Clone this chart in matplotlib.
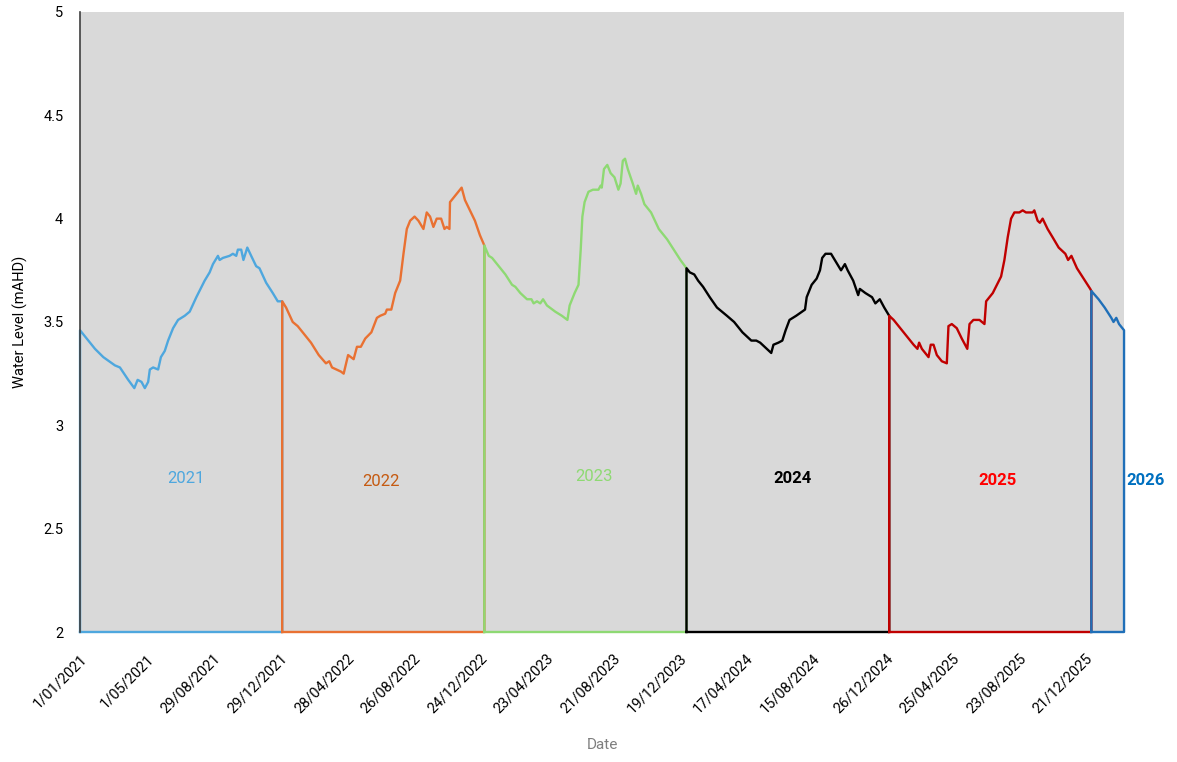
import matplotlib
matplotlib.use('Agg')
import matplotlib.pyplot as plt
import matplotlib.ticker as mticker
import pandas as pd

plt.rcParams['font.family'] = ['Roboto', 'DejaVu Sans']

# day of year / water level (mAHD), one series per year
doy_2021 = [0, 15, 27, 42, 63, 72, 87, 98, 104, 111, 117, 123, 126, 132, 141, 146, 153, 159, 168, 177,
            189, 198, 210, 225, 234, 240, 249, 252, 258, 270, 276, 282, 285, 291, 295, 302, 309, 318, 324,
            336, 348, 357, 365]
lvl_2021 = [3.46, 3.41, 3.37, 3.33, 3.29, 3.28, 3.22, 3.18, 3.22, 3.21, 3.18, 3.21, 3.27, 3.28, 3.27, 3.33,
            3.36, 3.41, 3.47, 3.51, 3.53, 3.55, 3.62, 3.70, 3.74, 3.78, 3.82, 3.80, 3.81, 3.82, 3.83, 3.82,
            3.85, 3.85, 3.80, 3.86, 3.82, 3.77, 3.76, 3.69, 3.64, 3.60, 3.60]

doy_2022 = [0, 7, 19, 28, 40, 52, 66, 79, 85, 90, 106, 111, 119, 129, 135, 142, 150, 161, 171, 177, 186,
            189, 197, 204, 213, 219, 225, 231, 239, 246, 255, 261, 267, 273, 279, 287, 293, 297, 302, 303,
            309, 315, 321, 324, 330, 339, 348, 357, 365]
lvl_2022 = [3.60, 3.57, 3.50, 3.48, 3.44, 3.40, 3.34, 3.30, 3.31, 3.28, 3.26, 3.25, 3.34, 3.32, 3.38, 3.38,
            3.42, 3.45, 3.52, 3.53, 3.54, 3.56, 3.56, 3.64, 3.70, 3.83, 3.95, 3.99, 4.01, 3.99, 3.95, 4.03,
            4.01, 3.96, 4.00, 4.00, 3.95, 3.96, 3.95, 4.08, 4.10, 4.12, 4.14, 4.15, 4.09, 4.04, 3.99, 3.92,
            3.87]

doy_2023 = [0, 8, 14, 26, 38, 50, 56, 65, 77, 85, 89, 95, 101, 106, 113, 128, 140, 150, 154, 163, 170, 174,
            177, 181, 188, 196, 202, 206, 210, 212, 216, 222, 228, 235, 242, 246, 250, 254, 259, 268, 274,
            277, 283, 289, 301, 315, 330, 342, 354, 365]
lvl_2023 = [3.87, 3.82, 3.81, 3.77, 3.73, 3.68, 3.67, 3.64, 3.61, 3.61, 3.59, 3.60, 3.59, 3.61, 3.58, 3.55,
            3.53, 3.51, 3.58, 3.64, 3.68, 3.85, 4.01, 4.08, 4.13, 4.14, 4.14, 4.14, 4.16, 4.15, 4.24, 4.26,
            4.22, 4.20, 4.14, 4.17, 4.28, 4.29, 4.24, 4.17, 4.12, 4.16, 4.12, 4.07, 4.03, 3.95, 3.90, 3.85,
            3.80, 3.76]

doy_2024 = [0, 6, 14, 21, 30, 42, 55, 64, 73, 86, 101, 117, 126, 133, 145, 153, 157, 166, 173, 179, 186,
            198, 214, 217, 226, 235, 241, 245, 251, 261, 270, 279, 286, 291, 301, 310, 313, 323, 335, 341,
            349, 357, 366]
lvl_2024 = [3.76, 3.74, 3.73, 3.70, 3.67, 3.62, 3.57, 3.55, 3.53, 3.50, 3.45, 3.41, 3.41, 3.40, 3.37, 3.35,
            3.39, 3.40, 3.41, 3.46, 3.51, 3.53, 3.56, 3.62, 3.68, 3.71, 3.75, 3.81, 3.83, 3.83, 3.79, 3.75,
            3.78, 3.75, 3.70, 3.63, 3.66, 3.64, 3.62, 3.59, 3.61, 3.57, 3.53]

doy_2025 = [0, 8, 20, 32, 44, 51, 54, 59, 71, 75, 80, 86, 95, 104, 107, 113, 122, 131, 141, 145, 152, 163,
            172, 175, 181, 187, 202, 208, 214, 220, 226, 235, 241, 247, 253, 259, 262, 268, 272, 277, 286,
            295, 306, 318, 323, 329, 339, 351, 363, 365]
lvl_2025 = [3.53, 3.51, 3.47, 3.43, 3.39, 3.37, 3.40, 3.37, 3.33, 3.39, 3.39, 3.34, 3.31, 3.30, 3.48, 3.49,
            3.47, 3.42, 3.37, 3.49, 3.51, 3.51, 3.49, 3.60, 3.62, 3.64, 3.72, 3.80, 3.91, 4.00, 4.03, 4.03,
            4.04, 4.03, 4.03, 4.03, 4.04, 3.99, 3.98, 4.00, 3.95, 3.91, 3.86, 3.83, 3.80, 3.82, 3.76, 3.71,
            3.66, 3.65]

doy_2026 = [0, 13, 24, 36, 40, 45, 50, 59]
lvl_2026 = [3.65, 3.61, 3.57, 3.52, 3.50, 3.52, 3.49, 3.46]

years = [2021, 2022, 2023, 2024, 2025, 2026]
doys = [doy_2021, doy_2022, doy_2023, doy_2024, doy_2025, doy_2026]
levels = [lvl_2021, lvl_2022, lvl_2023, lvl_2024, lvl_2025, lvl_2026]
line_colors = ['#4EA7DE', '#E97132', '#8ED973', '#000000', '#C00000', '#1F6FB8']
label_colors = ['#4EA7DE', '#C55A11', '#8ED973', '#000000', '#FF0000', '#0070C0']
label_bold = [False, False, False, True, True, True]

tick_labels = ['1/01/2021', '1/05/2021', '29/08/2021', '29/12/2021', '28/04/2022', '26/08/2022',
               '24/12/2022', '23/04/2023', '21/08/2023', '19/12/2023', '17/04/2024', '15/08/2024',
               '26/12/2024', '25/04/2025', '23/08/2025', '21/12/2025']

BASE = 2.0

fig = plt.figure(figsize=(11.77, 7.62), dpi=100)
ax = fig.add_axes([0.068, 0.1706, 0.887, 0.8137])
ax.set_facecolor('#D9D9D9')

for year, doy, lvl, col in zip(years, doys, levels, line_colors):
    start = pd.Timestamp(year=year, month=1, day=1)
    dates = list(start + pd.to_timedelta(doy, unit='D'))
    # outline: up from the base, along the series, down and back along the base
    xs = [dates[0]] + dates + [dates[-1], dates[0]]
    ys = [BASE] + list(lvl) + [BASE, BASE]
    ax.plot(xs, ys, color=col, lw=1.7, solid_joinstyle='round', clip_on=False, zorder=3)

# year labels (axes fraction coords)
label_pos = [(0.1015, 0.248), (0.288, 0.243), (0.492, 0.250), (0.682, 0.247), (0.879, 0.245),
             (1.021, 0.244)]
for year, (lx, ly), col, bold in zip(years, label_pos, label_colors, label_bold):
    ax.text(lx, ly, str(year), transform=ax.transAxes, color=col, fontsize=12,
            fontweight='bold' if bold else 'normal', ha='center', va='center', clip_on=False)

ax.set_xlim(pd.Timestamp('2021-01-01'), pd.Timestamp('2026-03-01'))
ax.set_ylim(2, 5)

tick_dates = pd.to_datetime(tick_labels, dayfirst=True)
ax.set_xticks(tick_dates)
ax.set_xticklabels(tick_labels, rotation=45, ha='right', rotation_mode='anchor')
ax.set_yticks([2, 2.5, 3, 3.5, 4, 4.5, 5])
ax.yaxis.set_major_formatter(mticker.FuncFormatter(lambda v, p: '%g' % v))
ax.tick_params(axis='both', length=0, labelsize=10.5, colors='#000000')
ax.tick_params(axis='y', pad=12)
ax.tick_params(axis='x', pad=14)

for side in ['top', 'right', 'bottom']:
    ax.spines[side].set_visible(False)
ax.spines['left'].set_color('#404040')
ax.spines['left'].set_linewidth(1.2)
ax.spines['left'].set_zorder(4)

ax.set_ylabel('Water Level (mAHD)', fontsize=10.5, color='#000000', labelpad=11)
ax.set_xlabel('Date', fontsize=11, color='#7F7F7F', labelpad=16)

fig.savefig('out.png', dpi=100)
